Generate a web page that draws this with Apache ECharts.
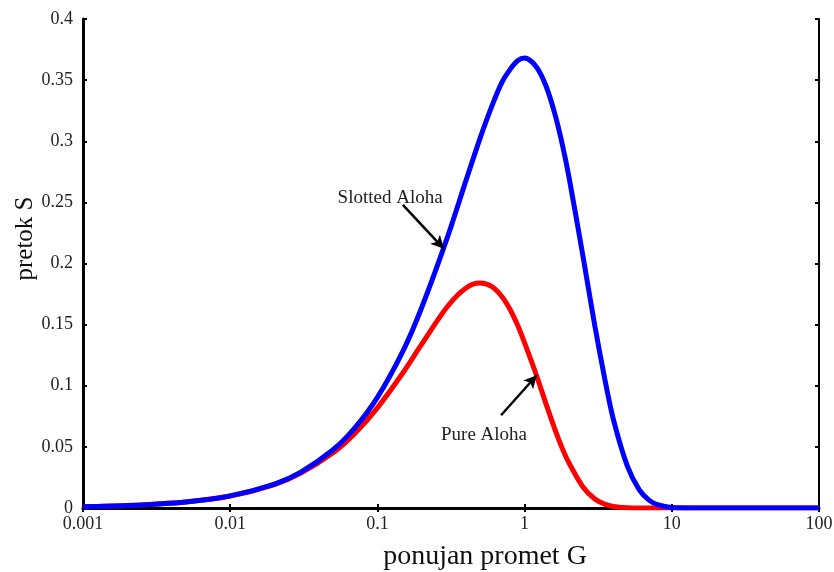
<!DOCTYPE html>
<html>
<head>
<meta charset="utf-8">
<script src="https://cdn.jsdelivr.net/npm/echarts@6/dist/echarts.min.js"></script>
<style>html,body{margin:0;padding:0;background:#fff;}#c{width:834px;height:572px;}</style>
</head>
<body>
<div id="c"></div>
<script>
// Offered load G (x values)
const loadG = [0.001, 0.002, 0.005, 0.01, 0.02, 0.03, 0.05, 0.07, 0.1, 0.15, 0.2, 0.3, 0.4, 0.5, 0.6, 0.7, 0.8, 0.9, 1.0, 1.2, 1.4, 1.6, 1.8, 2.0, 2.5, 3.0, 3.5, 4, 5, 6, 7, 8, 10, 20, 50, 100];
// Throughput S
const slottedS = [0.001, 0.002, 0.005, 0.0099, 0.0196, 0.0291, 0.0476, 0.0653, 0.0905, 0.129, 0.164, 0.222, 0.268, 0.303, 0.329, 0.348, 0.359, 0.366, 0.368, 0.361, 0.345, 0.323, 0.298, 0.271, 0.205, 0.149, 0.106, 0.073, 0.034, 0.015, 0.0064, 0.0027, 0.0005, 0, 0, 0];
const pureS    = [0.001, 0.002, 0.005, 0.0098, 0.0192, 0.0283, 0.0452, 0.0608, 0.0819, 0.111, 0.134, 0.165, 0.180, 0.184, 0.181, 0.173, 0.162, 0.149, 0.135, 0.109, 0.085, 0.065, 0.049, 0.037, 0.017, 0.0074, 0.0032, 0.0013, 0.0002, 0, 0, 0, 0, 0, 0, 0];
const xTickLabels = ['0.001', '0.01', '0.1', '1', '10', '100'];
const yTickLabels = ['0', '0.05', '0.1', '0.15', '0.2', '0.25', '0.3', '0.35', '0.4'];
const seriesNames = ['Pure Aloha', 'Slotted Aloha'];
// annotation anchors (data space): [textPos, arrowTail, arrowHead]
const slottedNote = [[0.122, 0.2535], [0.149, 0.248], [0.283, 0.212]];
const pureNote = [[0.53, 0.060], [0.692, 0.0759], [1.21, 0.1086]];

const font = 'Liberation Serif';
function pairs(xs, ys) { return xs.map((x, i) => [x, ys[i]]); }

const chart = echarts.init(document.getElementById('c'), null, {renderer: 'canvas'});
function note(n, name) {
  return {
    markLine: {
      silent: true, symbol: ['none', 'arrow'], symbolSize: [10, 13],
      lineStyle: {color: '#000', width: 2.5, type: 'solid'},
      label: {show: false},
      data: [[{coord: n[1]}, {coord: n[2]}]]
    },
    markPoint: {
      silent: true, symbol: 'circle', symbolSize: 0,
      label: {show: true, position: 'inside', formatter: name, color: '#222', fontFamily: font, fontSize: 19},
      data: [{coord: n[0]}]
    }
  };
}
chart.setOption({
  animation: false,
  grid: {left: 83, right: 15, top: 19, bottom: 64, containLabel: false, outerBoundsMode: 'none'},
  xAxis: [{
    type: 'log', logBase: 10, min: 0.001, max: 100,
    name: 'ponujan promet G', nameLocation: 'middle', nameGap: 35,
    nameTextStyle: {fontFamily: font, fontSize: 28, color: '#111', padding: [0, 0, 0, 68]},
    axisLine: {lineStyle: {color: '#000', width: 3}},
    axisTick: {inside: true, length: 4, lineStyle: {color: '#000', width: 2}},
    axisLabel: {fontFamily: font, fontSize: 18, color: '#222', margin: 7,
      formatter: (v, i) => xTickLabels[i] !== undefined ? xTickLabels[i] : ''},
    splitLine: {show: false}
  }, {
    type: 'log', logBase: 10, min: 0.001, max: 100, position: 'top',
    axisLine: {lineStyle: {color: '#000', width: 2}},
    axisTick: {inside: true, length: 4, lineStyle: {color: '#000', width: 2}},
    axisLabel: {show: false}, splitLine: {show: false}
  }],
  yAxis: [{
    type: 'value', min: 0, max: 0.4, interval: 0.05,
    name: 'pretok S', nameLocation: 'middle', nameGap: 45, nameRotate: 90, nameMoveOverlap: false,
    nameTextStyle: {fontFamily: font, fontSize: 25, color: '#111', padding: [0, 0, 0, 50]},
    axisLine: {show: true, lineStyle: {color: '#000', width: 3}},
    axisTick: {show: true, inside: true, length: 4, lineStyle: {color: '#000', width: 2}},
    axisLabel: {fontFamily: font, fontSize: 18, color: '#222', margin: 10,
      formatter: (v, i) => yTickLabels[i] !== undefined ? yTickLabels[i] : ''},
    splitLine: {show: false}
  }, {
    type: 'value', min: 0, max: 0.4, interval: 0.05, position: 'right',
    axisLine: {show: true, lineStyle: {color: '#000', width: 2}},
    axisTick: {show: true, inside: true, length: 4, lineStyle: {color: '#000', width: 2}},
    axisLabel: {show: false}, splitLine: {show: false}
  }],
  series: [
    Object.assign({
      name: seriesNames[0], type: 'line', data: pairs(loadG, pureS), showSymbol: false, smooth: 0.3,
      lineStyle: {color: '#ff0000', width: 5}, itemStyle: {color: '#ff0000'}, z: 2
    }, note(pureNote, seriesNames[0])),
    Object.assign({
      name: seriesNames[1], type: 'line', data: pairs(loadG, slottedS), showSymbol: false, smooth: 0.3,
      lineStyle: {color: '#0000ff', width: 5}, itemStyle: {color: '#0000ff'}, z: 3
    }, note(slottedNote, seriesNames[1]))
  ]
});
</script>
</body>
</html>
